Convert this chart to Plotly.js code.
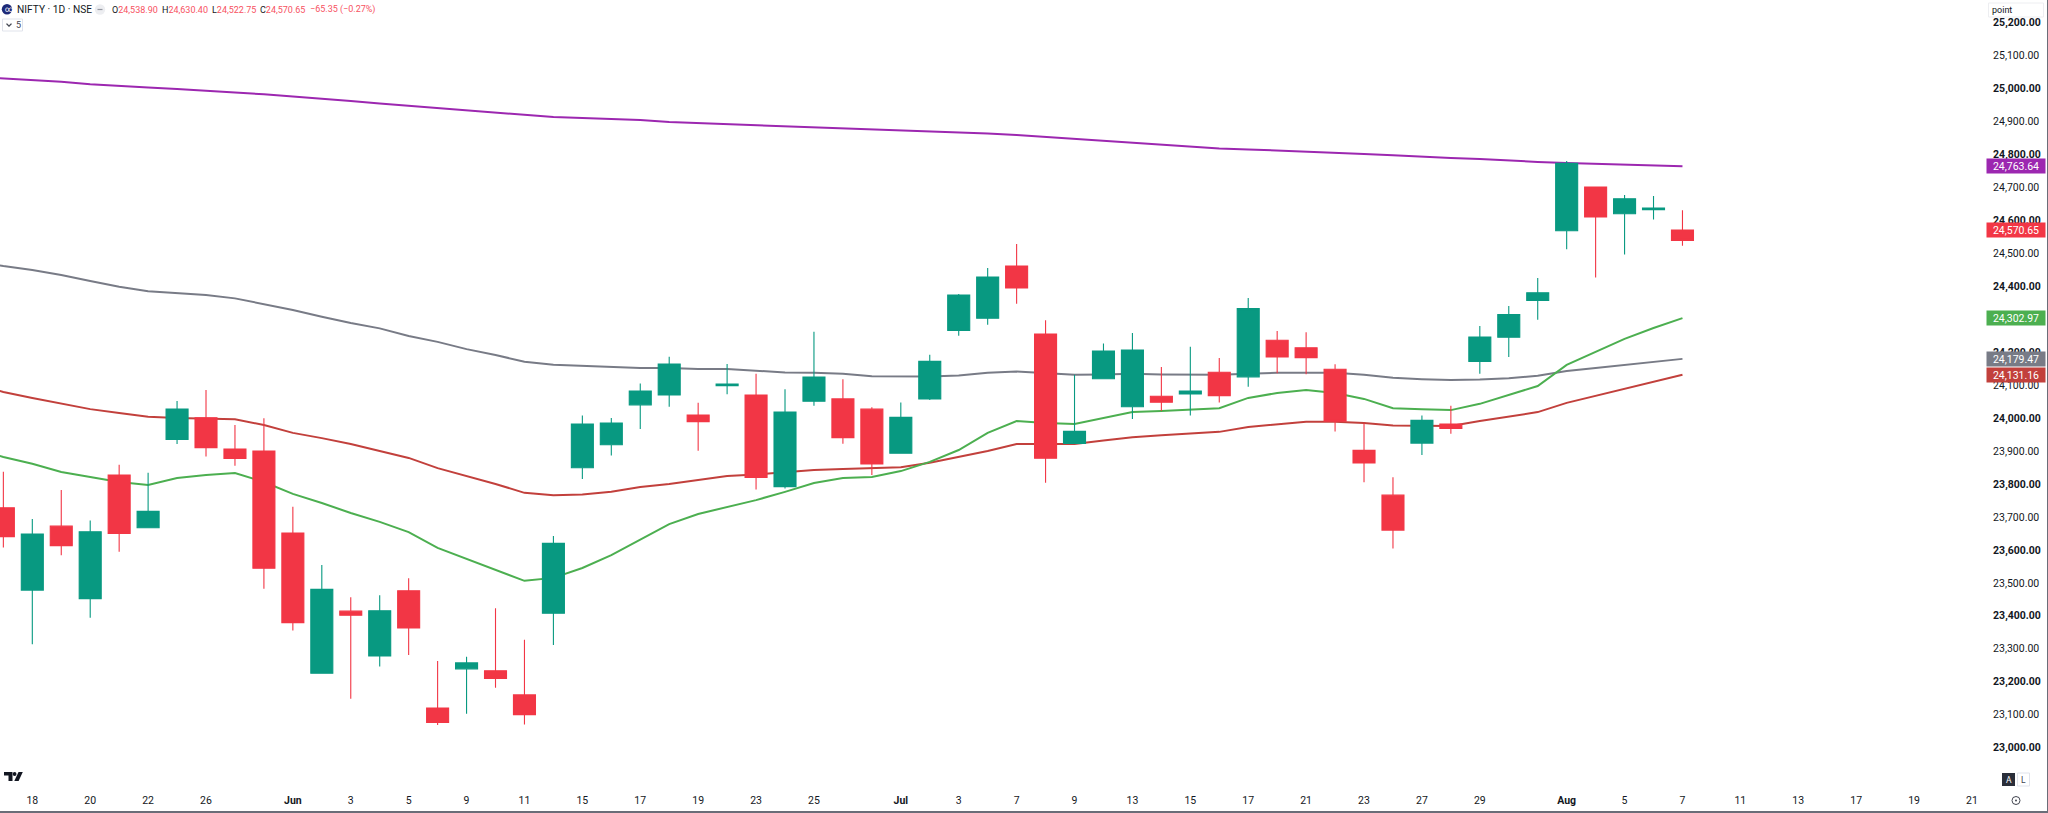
<!DOCTYPE html>
<html>
<head>
<meta charset="utf-8">
<script src="https://cdn.plot.ly/plotly-3.0.1.min.js"></script>
<style>html,body{margin:0;padding:0;background:#fff;overflow:hidden}#chart{width:2048px;height:813px}</style>
</head>
<body>
<div id="chart"></div>
<script>
// bar slots (trading sessions), -1 is the partly cut candle at the left edge
const candleSlots = [-1,0,1,2,3,4,5,6,7,8,9,10,11,12,13,14,15,16,17,18,19,20,21,22,23,24,25,26,27,28,29,30,31,32,33,34,35,36,37,38,39,40,41,42,43,44,45,46,47,48,49,50,51,52,53,54,55,56,57];
const lineSlots = [-2,-1,0,1,2,3,4,5,6,7,8,9,10,11,12,13,14,15,16,17,18,19,20,21,22,23,24,25,26,27,28,29,30,31,32,33,34,35,36,37,38,39,40,41,42,43,44,45,46,47,48,49,50,51,52,53,54,55,56,57];

// body top / bottom order follows the drawn colour: red bars have top first
const openPrices = [23728,23478,23672,23452,23827,23667,23935,24001,23906,23900,23651,23226,23414,23278,23476,23120,23239,23233,23160,23408,23849,23919,24040,24070,24009,24098,24070,23792,24051,24058,24027,23893,24058,24266,24303,24461,24255,23923,24119,24034,24066,24073,24139,24125,24236,24213,24148,23902,23766,23924,23982,24172,24245,24357,24568,24701,24620,24632,24570.65];
const highPrices = [23837,23694,23782,23689,23858,23834,24052,24085,23979,23999,23731,23554,23456,23462,23514,23263,23276,23423,23327,23642,24008,24000,24105,24186,24046,24164,24134,24087,24262,24118,24033,24047,24192,24376,24455,24528,24297,24131,24226,24258,24155,24216,24182,24364,24264,24260,24163,23984,23820,24008,24037,24279,24340,24425,24780,24701,24677,24674,24630.40];
const lowPrices = [23607,23314,23584,23394,23594,23667,23921,23883,23855,23482,23355,23226,23148,23246,23281,23069,23103,23182,23070,23311,23815,23886,23967,24034,23901,24072,23783,23786,24037,23922,23827,23893,24055,24250,24283,24347,23804,23923,24119,23997,24021,24008,24047,24095,24136,24133,23959,23805,23604,23888,23952,24134,24185,24298,24512,24426,24496,24602,24522.75];
const closePrices = [23640,23648,23613,23655,23650,23717,24027,23910,23877,23544,23379,23480,23402,23415,23363,23076,23257,23210,23100,23620,23982,23985,24082,24164,23989,24103,23820,24018,24124,23940,23861,24002,24172,24373,24428,24395,23878,23960,24203,24206,24048,24082,24068,24332,24185,24183,23990,23864,23660,23993,23968,24246,24314,24380,24773,24610,24665,24637,24538.90];

const ma200 = [25035,25030,25026,25020,25013,25007,25003,24998,24994,24988,24982,24976,24968,24962,24954,24947,24941,24933,24925,24919,24913,24910,24907,24904,24898,24895,24892,24889,24886,24883,24880,24877,24874,24871,24868,24863,24859,24853,24847,24840,24834,24828,24822,24818,24815,24812,24807,24804,24801,24797,24792,24789,24786,24781,24777,24774,24771,24768,24765,24763.64];
const ma100 = [24476,24461,24449,24434,24416,24398,24385,24379,24373,24363,24346,24328,24307,24288,24272,24249,24231,24209,24191,24171,24162,24158,24155,24152,24152,24149,24149,24143,24138,24137,24134,24127,24126,24126,24129,24137,24141,24135,24131,24132,24134,24132,24131,24131,24134,24137,24137,24137,24131,24122,24118,24115,24117,24121,24128,24143,24152,24161,24170,24179.47];
const ma50 = [24103,24079,24061,24043,24027,24015,24004,24000,23999,23996,23979,23955,23939,23921,23900,23879,23848,23824,23800,23773,23766,23768,23776,23791,23800,23812,23824,23829,23836,23842,23845,23847,23851,23864,23882,23900,23921,23921,23921,23932,23942,23948,23953,23958,23973,23982,23989,23989,23985,23977,23977,23976,23991,24005,24018,24046,24067,24088,24109,24131.16];
const ma20 = [23906,23882,23861,23836,23821,23806,23797,23818,23827,23833,23806,23770,23742,23712,23685,23654,23606,23572,23539,23506,23515,23545,23584,23630,23678,23709,23730,23751,23776,23803,23818,23821,23839,23867,23903,23955,23991,23985,23982,24000,24018,24021,24026,24030,24061,24076,24085,24076,24058,24030,24027,24024,24043,24070,24097,24161,24200,24240,24273,24302.97];
const lastClose = 24570.65;

const xTickSlots = [0,2,4,6,9,11,13,15,17,19,21,23,25,27,30,32,34,36,38,40,42,44,46,48,50,53,55,57,59,61,63,65,67];
const xTickLabels = ['18','20','22','26','<b>Jun</b>','3','5','9','11','15','17','19','23','25','<b>Jul</b>','3','7','9','13','15','17','21','23','27','29','<b>Aug</b>','5','7','11','13','17','19','21'];
const yTickValues = [25200,25100,25000,24900,24800,24700,24600,24500,24400,24300,24200,24100,24000,23900,23800,23700,23600,23500,23400,23300,23200,23100,23000];
const yTickLabels = ['<b>25,200.00</b>','25,100.00','<b>25,000.00</b>','24,900.00','<b>24,800.00</b>','24,700.00','<b>24,600.00</b>','24,500.00','<b>24,400.00</b>','24,300.00','<b>24,200.00</b>','24,100.00','<b>24,000.00</b>','23,900.00','<b>23,800.00</b>','23,700.00','<b>23,600.00</b>','23,500.00','<b>23,400.00</b>','23,300.00','<b>23,200.00</b>','23,100.00','<b>23,000.00</b>'];

const W = 2048, H = 813, PLOT_W = 1985, PLOT_H = 782;
const UP = '#089981', DOWN = '#F23645', RED_TXT = '#F7525F', INK = '#131722';
const COL200 = '#9C27B0', COL100 = '#787B86', COL50 = '#C2403C', COL20 = '#4CAF50';
const xRange = [-1.116, 67.45], yRange = [22895.7, 25268.3];
const FONT = 'Roboto, "Liberation Sans", sans-serif';
const px = x => x / PLOT_W, py = y => 1 - y / PLOT_H;

function line(y, color) {
  return {type: 'scatter', mode: 'lines', x: lineSlots, y: y, xaxis: 'x', yaxis: 'y',
    line: {color: color, width: 2}, hoverinfo: 'skip', showlegend: false};
}
const traces = [
  line(ma200, COL200), line(ma100, COL100), line(ma50, COL50), line(ma20, COL20),
  {type: 'candlestick', x: candleSlots, open: openPrices, high: highPrices, low: lowPrices, close: closePrices,
   xaxis: 'x2', yaxis: 'y2', whiskerwidth: 0,
   increasing: {line: {color: UP, width: 1.1}, fillcolor: UP},
   decreasing: {line: {color: DOWN, width: 1.1}, fillcolor: DOWN},
   hoverinfo: 'skip', showlegend: false}
];

function rect(x0, y0, x1, y1, fill, stroke) {
  return {type: 'rect', xref: 'paper', yref: 'paper', x0: px(x0), x1: px(x1), y0: py(y0), y1: py(y1),
    fillcolor: fill, line: {color: stroke || fill, width: stroke ? 1 : 0}};
}
function circle(cx, cy, r, fill, stroke) {
  return {type: 'circle', xref: 'paper', yref: 'paper', x0: px(cx - r), x1: px(cx + r), y0: py(cy - r), y1: py(cy + r),
    fillcolor: fill, line: {color: stroke || fill, width: stroke ? 1 : 0}};
}
function pathOf(points, fill) {
  const d = points.map((p, i) => (i ? 'L' : 'M') + px(p[0]) + ',' + py(p[1])).join(' ') + ' Z';
  return {type: 'path', xref: 'paper', yref: 'paper', path: d, fillcolor: fill, line: {width: 0}};
}
function text(x, y, t, size, color, anchor) {
  return {xref: 'paper', yref: 'paper', x: px(x), y: py(y), text: t, showarrow: false,
    xanchor: anchor || 'left', yanchor: 'middle', align: anchor || 'left', borderpad: 0,
    font: {family: FONT, size: size, color: color || INK}};
}
function priceTag(value, color) {
  return {xref: 'paper', yref: 'y', x: px(1986), y: value, xanchor: 'left', yanchor: 'middle', showarrow: false,
    text: value.toLocaleString('en-US', {minimumFractionDigits: 2}), width: 58, height: 14, align: 'center',
    bgcolor: color, borderpad: 0, font: {family: FONT, size: 10.5, color: '#ffffff'}};
}
const last = a => a[a.length - 1];
const redSpan = s => '<span style="color:' + RED_TXT + '">' + s + '</span>';

const shapes = [
  rect(-2, 811, W + 2, 815, '#6a6d78'),
  rect(2047, -2, W + 2, 815, '#6a6d78'),
  circle(7, 9.3, 5.2, '#1E2A78'),
  circle(100, 9.5, 5.2, '#EDEEF1'),
  rect(97.5, 8.9, 102.5, 10.1, '#9598A1'),
  rect(2.5, 19, 22.5, 31, '#FFFFFF', '#E0E3EB'),
  pathOf([[6,24],[7,23.2],[9,25.2],[11,23.2],[12,24],[9,27]], '#434651'),
  rect(1988.5, 3, 2043.5, 17, '#FFFFFF', '#EDEEF1'),
  rect(2002, 773, 2015, 786, '#2A2E39'),
  rect(2017.5, 773, 2029.5, 786, '#FFFFFF', '#E0E3EB'),
  circle(2016, 800.5, 4, 'rgba(0,0,0,0)', '#434651'),
  circle(2016, 800.5, 1, '#434651'),
  // logo
  pathOf([[4,772],[12.5,772],[12.5,781],[8.5,781],[8.5,775.5],[4,775.5]], '#131722'),
  circle(14.6, 774, 1.9, '#131722'),
  pathOf([[18.5,772],[22.8,772],[18.6,781],[14.3,781]], '#131722')
];
const annotations = [
  text(3.8, 9.5, '∞', 8, '#FFFFFF'),
  text(16, 9.5, 'NIFTY · 1D · NSE', 10.2),
  text(111, 9.5, 'O' + redSpan('24,538.90'), 9),
  text(161, 9.5, 'H' + redSpan('24,630.40'), 9),
  text(211, 9.5, 'L' + redSpan('24,522.75'), 9),
  text(259, 9.5, 'C' + redSpan('24,570.65'), 9),
  text(309, 9.5, redSpan('−65.35 (−0.27%)'), 9),
  text(15, 25, '5', 9, '#434651'),
  text(1991, 10, 'point', 9, '#131722'),
  text(2008.5, 779.5, 'A', 8.5, '#FFFFFF', 'center'),
  text(2023.5, 779.5, 'L', 8.5, '#434651', 'center'),
  priceTag(last(ma200), COL200),
  priceTag(lastClose, DOWN),
  priceTag(last(ma20), COL20),
  priceTag(last(ma100), COL100),
  priceTag(last(ma50), COL50)
];

const layout = {
  width: W, height: H, margin: {l: 0, r: W - PLOT_W, t: 0, b: H - PLOT_H, pad: 0},
  paper_bgcolor: '#FFFFFF', plot_bgcolor: '#FFFFFF', showlegend: false, boxgap: 0.24, boxgroupgap: 0, dragmode: false,
  font: {family: FONT, color: INK},
  xaxis: {range: xRange, tickmode: 'array', tickvals: xTickSlots, ticktext: xTickLabels, showgrid: false, zeroline: false,
    showline: false, ticks: 'outside', ticklen: 8, tickcolor: 'rgba(0,0,0,0)', tickangle: 0, tickfont: {family: FONT, size: 10.5, color: INK}, fixedrange: true, rangeslider: {visible: false}},
  yaxis: {range: yRange, side: 'right', tickmode: 'array', tickvals: yTickValues, ticktext: yTickLabels, showgrid: false, zeroline: false,
    showline: false, ticks: 'outside', ticklen: 5, tickcolor: 'rgba(0,0,0,0)', tickfont: {family: FONT, size: 10.5, color: INK}, fixedrange: true},
  xaxis2: {range: xRange, overlaying: 'x', visible: false, fixedrange: true, rangeslider: {visible: false}},
  yaxis2: {range: yRange, overlaying: 'y', visible: false, fixedrange: true},
  shapes: shapes, annotations: annotations
};
Plotly.newPlot('chart', traces, layout, {staticPlot: true, displayModeBar: false});
</script>
</body>
</html>
